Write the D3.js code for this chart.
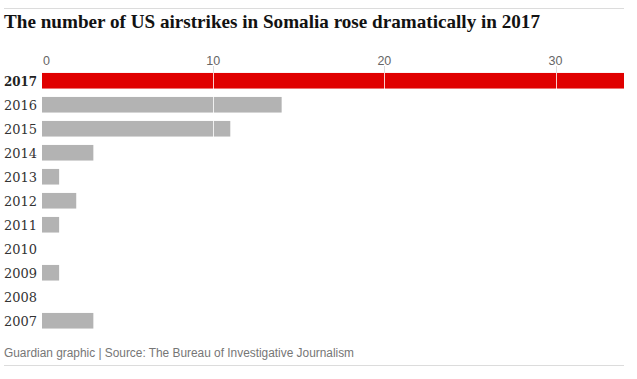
<!DOCTYPE html>
<html>
<head>
<meta charset="utf-8">
<script src="https://cdn.jsdelivr.net/npm/d3@7"></script>
<style>
  body { margin: 0; background: #fff; }
  svg { display: block; }
</style>
</head>
<body>
<div id="chart"></div>
<script>
// data
const years = ["2017", "2016", "2015", "2014", "2013", "2012", "2011", "2010", "2009", "2008", "2007"]
const strikes = [34, 14, 11, 3, 1, 2, 1, 0, 1, 0, 3]
const tickValues = [0, 10, 20, 30]
const highlight = "2017"

const titleText = "The number of US airstrikes in Somalia rose dramatically in 2017"
const footText = "Guardian graphic | Source: The Bureau of Investigative Journalism"

const width = 637
const height = 379
const marginLeft = 42, marginRight = 624
const barTop = 73

let svg = d3.select("#chart")
  .append("svg")
  .attr("width", width)
  .attr("height", height)

// rules top and bottom
svg.append("line")
  .attr("x1", 4).attr("x2", marginRight)
  .attr("y1", 8.5).attr("y2", 8.5)
  .attr("stroke", "#dcdcdc")
svg.append("line")
  .attr("x1", 4).attr("x2", marginRight)
  .attr("y1", 365.5).attr("y2", 365.5)
  .attr("stroke", "#dcdcdc")

// title
svg.append("text")
  .attr("x", 4)
  .attr("y", 28)
  .attr("font-family", "'Liberation Serif', 'DejaVu Serif', serif")
  .attr("font-weight", "bold")
  .attr("font-size", 19)
  .attr("fill", "#121212")
  .attr("textLength", 536)
  .attr("lengthAdjust", "spacingAndGlyphs")
  .text(titleText)

let x = d3.scaleLinear()
  .domain([0, d3.max(strikes)])
  .range([marginLeft, marginRight])

let y = d3.scaleBand()
  .domain(years)
  .range([barTop - 4.25, barTop - 4.25 + 24 * years.length])
  .paddingInner(0.35)
  .paddingOuter(0.175)

let data = years.map((d, i) => ({ year: d, value: strikes[i] }))

// bars
svg.append("g")
  .selectAll("rect")
  .data(data)
  .enter().append("rect")
  .attr("x", x(0))
  .attr("y", d => y(d.year))
  .attr("width", d => x(d.value) - x(0))
  .attr("height", y.bandwidth())
  .attr("fill", d => d.year == highlight ? "#e00000" : "#b3b3b3")

// grid: grey stub above, white through the bars
let ticks = tickValues.filter(v => v > 0)
svg.append("g")
  .selectAll("line")
  .data(ticks)
  .enter().append("line")
  .attr("x1", d => Math.round(x(d)) + 0.5)
  .attr("x2", d => Math.round(x(d)) + 0.5)
  .attr("y1", 66)
  .attr("y2", y(years[0]))
  .attr("stroke", "#dcdcdc")
svg.append("g")
  .selectAll("line")
  .data(ticks)
  .enter().append("line")
  .attr("x1", d => Math.round(x(d)) + 0.5)
  .attr("x2", d => Math.round(x(d)) + 0.5)
  .attr("y1", y(years[0]))
  .attr("y2", y(years[years.length - 1]) + y.bandwidth())
  .attr("stroke", "#fff")
  .attr("stroke-opacity", 0.8)

// tick labels
svg.append("g")
  .selectAll("text")
  .data(tickValues)
  .enter().append("text")
  .attr("x", d => d == 0 ? x(d) + 1 : x(d))
  .attr("y", 65)
  .attr("text-anchor", d => d == 0 ? "start" : "middle")
  .attr("font-family", "'Liberation Sans', Arial, sans-serif")
  .attr("font-size", 12.5)
  .attr("fill", "#666")
  .text(d => d)

// year labels
svg.append("g")
  .selectAll("text")
  .data(data)
  .enter().append("text")
  .attr("x", 37)
  .attr("y", d => y(d.year) + y.bandwidth() / 2 + 5)
  .attr("text-anchor", "end")
  .attr("font-family", "'DejaVu Serif', serif")
  .attr("font-size", 13)
  .attr("font-weight", d => d.year == highlight ? "bold" : "normal")
  .attr("fill", d => d.year == highlight ? "#222" : "#333")
  .attr("textLength", 33)
  .attr("lengthAdjust", "spacingAndGlyphs")
  .text(d => d.year)

// footer
svg.append("text")
  .attr("x", 4)
  .attr("y", 357)
  .attr("font-family", "'Liberation Sans', Arial, sans-serif")
  .attr("font-size", 12.5)
  .attr("fill", "#767676")
  .attr("textLength", 350)
  .attr("lengthAdjust", "spacingAndGlyphs")
  .text(footText)
</script>
</body>
</html>
